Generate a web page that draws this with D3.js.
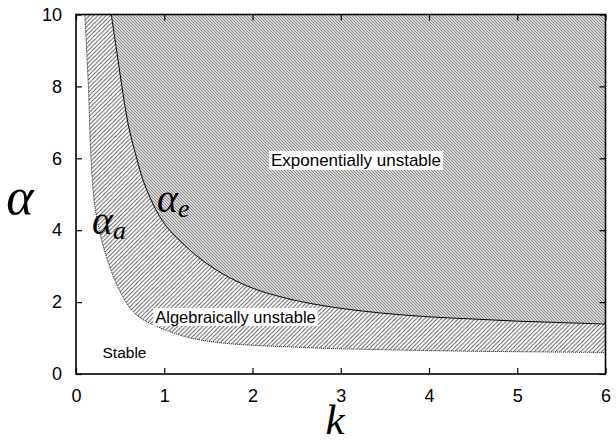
<!DOCTYPE html>
<html>
<head>
<meta charset="utf-8">
<script src="https://cdn.jsdelivr.net/npm/d3@7"></script>
<style>
body{margin:0;background:#fff;}
</style>
</head>
<body>
<svg id="display" width="616" height="441"></svg>
<script>
// k values and the two stability boundaries
const k_e=[0.40,0.46,0.52,0.59,0.69,0.76,0.84,0.93,1.03,1.18,1.37,1.55,1.74,1.93,2.1,2.27,2.5,2.88,3.44,4.0,4.5,5.0,5.5,6.0];
const alpha_e=[10,9.0,8.0,6.96,5.98,5.39,4.9,4.46,4.09,3.70,3.28,2.96,2.68,2.46,2.30,2.18,2.04,1.87,1.70,1.59,1.53,1.47,1.43,1.39];
const k_a=[0.10,0.14,0.17,0.215,0.31,0.44,0.53,0.63,0.73,0.84,1.06,1.3,1.63,2.0,2.46,2.88,3.22,4.0,5.0,6.0];
const alpha_a=[10,8.0,6.0,4.65,3.54,2.61,2.15,1.78,1.56,1.41,1.18,1.0,0.87,0.80,0.75,0.71,0.69,0.65,0.62,0.60];
const x_ticks=[0,1,2,3,4,5,6];
const y_ticks=[0,2,4,6,8,10];

const display=d3.select("#display");
const x=d3.scaleLinear().domain([0,6]).range([76,605.5]);
const y=d3.scaleLinear().domain([0,10]).range([374,14.5]);

// hatch patterns
const defs=display.append("defs");
const p_alg=defs.append("pattern")
    .attr("id","hatch_alg")
    .attr("patternUnits","userSpaceOnUse")
    .attr("width",4.2)
    .attr("height",4.2);
p_alg.append("path")
    .attr("d","M-1,1 l2,-2 M0,4.2 l4.2,-4.2 M3.2,5.2 l2,-2")
    .attr("stroke","#555")
    .attr("stroke-width",0.9);
const p_exp=defs.append("pattern")
    .attr("id","hatch_exp")
    .attr("patternUnits","userSpaceOnUse")
    .attr("width",3)
    .attr("height",3);
p_exp.append("rect").attr("width",3).attr("height",3).attr("fill","#d6d6d6");
p_exp.append("path")
    .attr("d","M-1,2 l2,2 M0,0 l3,3 M2,-1 l2,2")
    .attr("stroke","#808080")
    .attr("stroke-width",0.9);

defs.append("clipPath").attr("id","plot_clip")
    .append("rect")
    .attr("x",x(0)).attr("y",y(10))
    .attr("width",x(6)-x(0)).attr("height",y(0)-y(10));

const plot=display.append("g").attr("clip-path","url(#plot_clip)");

const data_a=k_a.map((k,i)=>({k:k,a:alpha_a[i]}));
const data_e=k_e.map((k,i)=>({k:k,a:alpha_e[i]}));

const smooth=d3.curveCatmullRom.alpha(0.5);
const area=d3.area()
    .x(d=>x(d.k))
    .y0(y(10))
    .y1(d=>y(d.a))
    .curve(smooth);
const line=d3.line()
    .x(d=>x(d.k))
    .y(d=>y(d.a))
    .curve(smooth);

// algebraically unstable region
plot.append("path")
    .attr("d",area(data_a))
    .attr("fill","url(#hatch_alg)");
// exponentially unstable region
plot.append("path")
    .attr("d",area(data_e))
    .attr("fill","#fff");
plot.append("path")
    .attr("d",area(data_e))
    .attr("fill","url(#hatch_exp)");

// boundaries
plot.append("path")
    .attr("d",line(data_a))
    .attr("fill","none")
    .attr("stroke","#000")
    .attr("stroke-width",0.9)
    .attr("stroke-dasharray","1,1");
plot.append("path")
    .attr("d",line(data_e))
    .attr("fill","none")
    .attr("stroke","#000")
    .attr("stroke-width",1);

// axes
const tick_font="'Liberation Sans',Arial,sans-serif";
const axis_bottom=display.append("g")
    .attr("transform","translate(0,"+y(0)+")")
    .call(d3.axisBottom(x).tickValues(x_ticks).tickSize(-6).tickPadding(15).tickFormat(d3.format("d")));
const axis_left=display.append("g")
    .attr("transform","translate("+x(0)+",0)")
    .call(d3.axisLeft(y).tickValues(y_ticks).tickSize(-6).tickPadding(14).tickFormat(d3.format("d")));
const axis_top=display.append("g")
    .attr("transform","translate(0,"+y(10)+")")
    .call(d3.axisTop(x).tickValues(x_ticks).tickSize(-6).tickFormat(""));
const axis_right=display.append("g")
    .attr("transform","translate("+x(6)+",0)")
    .call(d3.axisRight(y).tickValues(y_ticks).tickSize(-6).tickFormat(""));
for (const g of [axis_bottom,axis_left,axis_top,axis_right]){
    g.select(".domain").remove();
    g.selectAll("line").attr("stroke","#000").attr("stroke-width",1.2);
    g.selectAll("text").style("font-family",tick_font).style("font-size","18px").attr("fill","#000");
}
display.append("rect")
    .attr("x",x(0)).attr("y",y(10))
    .attr("width",x(6)-x(0)).attr("height",y(0)-y(10))
    .attr("fill","none")
    .attr("stroke","#000")
    .attr("stroke-width",1.6);

// region labels on white boxes
function boxed_label(txt,cx,cy,size){
    const box=display.append("rect").attr("fill","#fff");
    const t=display.append("text")
        .attr("x",cx).attr("y",cy)
        .style("font-family",tick_font)
        .style("font-size",size+"px")
        .attr("text-anchor","middle")
        .text(txt);
    const b=t.node().getBBox();
    box.attr("x",b.x-2).attr("y",b.y)
        .attr("width",b.width+4).attr("height",b.height);
}
boxed_label("Exponentially unstable",356,166,17);
boxed_label("Algebraically unstable",235.5,323,16.5);
display.append("text")
    .attr("x",124.5).attr("y",358)
    .style("font-family",tick_font)
    .style("font-size","15.5px")
    .attr("text-anchor","middle")
    .text("Stable");

// math labels
const math_font="'Liberation Serif','DejaVu Serif',serif";
display.append("text")
    .attr("x",20).attr("y",214)
    .attr("text-anchor","middle")
    .style("font-family",math_font)
    .style("font-style","italic")
    .style("font-size","52px")
    .text("α");
display.append("text")
    .attr("x",335).attr("y",434)
    .attr("text-anchor","middle")
    .style("font-family",math_font)
    .style("font-style","italic")
    .style("font-size","43px")
    .text("k");
function curve_label(xp,yp,sub){
    const t=display.append("text")
        .attr("x",xp).attr("y",yp)
        .style("font-family",math_font)
        .style("font-style","italic")
        .style("font-size","40px");
    t.append("tspan").text("α");
    t.append("tspan").attr("dy",5).style("font-size","26px").text(sub);
}
curve_label(92,234,"a");
curve_label(157,212,"e");
</script>
</body>
</html>
